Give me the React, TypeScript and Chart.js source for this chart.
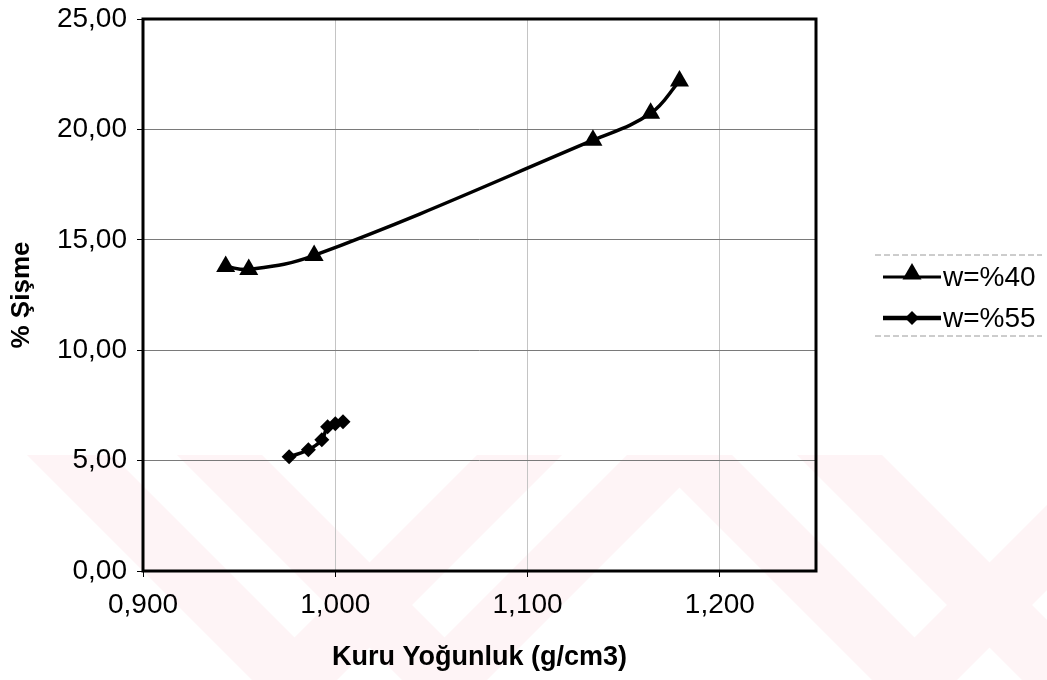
import { useEffect, useRef } from "react";
import { Chart, registerables } from "chart.js";

Chart.register(...registerables);

// Dry density (g/cm3) vs swelling (%) for two water contents
const densityW40 = [0.943, 0.955, 0.989, 1.134, 1.164, 1.179];
const swellW40 = [13.79, 13.66, 14.29, 19.51, 20.73, 22.19];
const densityW55 = [0.976, 0.986, 0.993, 0.996, 1.0, 1.004];
const swellW55 = [5.17, 5.49, 5.94, 6.53, 6.67, 6.76];

const seriesLabels = ["w=%40", "w=%55"];
const xTicks = [0.9, 1.0, 1.1, 1.2];
const yTicks = [0, 5, 10, 15, 20, 25];
const xTitle = "Kuru Yoğunluk (g/cm3)";
const yTitle = "% Şişme";

const FONT = "'Liberation Sans', Arial, sans-serif";
const W = 1047;
const H = 680;

const toPoints = (xs: number[], ys: number[]) => xs.map((x, i) => ({ x, y: ys[i] }));

function drawTriangle(ctx: CanvasRenderingContext2D, x: number, y: number, r: number) {
  ctx.beginPath();
  for (let k = 0; k < 3; k++) {
    const a = (k * 2 * Math.PI) / 3;
    const px = x + Math.sin(a) * r;
    const py = y - Math.cos(a) * r;
    if (k === 0) ctx.moveTo(px, py);
    else ctx.lineTo(px, py);
  }
  ctx.closePath();
  ctx.fill();
}

function drawDiamond(ctx: CanvasRenderingContext2D, x: number, y: number, r: number) {
  ctx.beginPath();
  ctx.moveTo(x, y - r);
  ctx.lineTo(x + r, y);
  ctx.lineTo(x, y + r);
  ctx.lineTo(x - r, y);
  ctx.closePath();
  ctx.fill();
}

// faint page watermark: diagonal bands across the lower part of the page
const watermarkPlugin = {
  id: "watermark",
  beforeDraw(chart: any) {
    const ctx = chart.ctx as CanvasRenderingContext2D;
    ctx.save();
    ctx.fillStyle = "#ffffff";
    ctx.fillRect(0, 0, chart.width, chart.height);
    ctx.fillStyle = "#fef4f6";
    const top = 455;
    const bottom = chart.height;
    const h = bottom - top;
    const bw = 85;
    const down = [27, 177, 647, 797];
    const up = [477, 627, 1097];
    for (const x0 of down) {
      ctx.beginPath();
      ctx.moveTo(x0, top);
      ctx.lineTo(x0 + bw, top);
      ctx.lineTo(x0 + bw + h, bottom);
      ctx.lineTo(x0 + h, bottom);
      ctx.closePath();
      ctx.fill();
    }
    for (const x0 of up) {
      ctx.beginPath();
      ctx.moveTo(x0, top);
      ctx.lineTo(x0 + bw, top);
      ctx.lineTo(x0 + bw - h, bottom);
      ctx.lineTo(x0 - h, bottom);
      ctx.closePath();
      ctx.fill();
    }
    ctx.restore();
  },
};

// solid frame around the plot area
const framePlugin = {
  id: "frame",
  beforeDatasetsDraw(chart: any) {
    const { ctx, chartArea } = chart;
    ctx.save();
    ctx.strokeStyle = "#000";
    ctx.lineWidth = 3;
    ctx.setLineDash([]);
    ctx.strokeRect(chartArea.left, chartArea.top, chartArea.right - chartArea.left, chartArea.bottom - chartArea.top);
    ctx.restore();
  },
};

// legend on the right: line sample with marker, then label
const legendPlugin = {
  id: "sideLegend",
  afterDraw(chart: any) {
    const ctx = chart.ctx as CanvasRenderingContext2D;
    const boxLeft = 875;
    const boxRight = 1042;
    const boxTop = 255;
    const boxBottom = 336;
    ctx.save();
    ctx.strokeStyle = "#9a9a9a";
    ctx.lineWidth = 1;
    ctx.setLineDash([6, 3]);
    ctx.beginPath();
    ctx.moveTo(boxLeft, boxTop);
    ctx.lineTo(boxRight, boxTop);
    ctx.moveTo(boxLeft, boxBottom);
    ctx.lineTo(boxRight, boxBottom);
    ctx.stroke();
    ctx.setLineDash([]);

    const rows = [277, 318];
    chart.data.datasets.forEach((ds: any, i: number) => {
      const y = rows[i];
      ctx.strokeStyle = "#000";
      ctx.fillStyle = "#000";
      ctx.lineWidth = i === 0 ? 3 : 4.5;
      ctx.beginPath();
      ctx.moveTo(883, y);
      ctx.lineTo(941, y);
      ctx.stroke();
      if (ds.pointStyle === "triangle") drawTriangle(ctx, 912, y - 3, 11);
      else drawDiamond(ctx, 912, y, 7);
      ctx.font = `28px ${FONT}`;
      ctx.textBaseline = "middle";
      ctx.textAlign = "left";
      ctx.fillText(ds.label, 943, y + 1);
    });
    ctx.restore();
  },
};

export default function App() {
  const canvasRef = useRef<HTMLCanvasElement | null>(null);

  useEffect(() => {
    const canvas = canvasRef.current;
    if (!canvas) return;
    const chart = new Chart(canvas, {
      type: "scatter",
      data: {
        datasets: [
          {
            label: seriesLabels[0],
            data: toPoints(densityW40, swellW40),
            showLine: true,
            tension: 0.4,
            borderColor: "#000",
            backgroundColor: "#000",
            borderWidth: 3.5,
            pointStyle: "triangle",
            pointRadius: 11,
            pointHoverRadius: 11,
            pointBorderWidth: 0,
          },
          {
            label: seriesLabels[1],
            data: toPoints(densityW55, swellW55),
            showLine: true,
            tension: 0.4,
            borderColor: "#000",
            backgroundColor: "#000",
            borderWidth: 3.5,
            pointStyle: "rectRot",
            pointRadius: 7.5,
            pointHoverRadius: 7.5,
            pointBorderWidth: 0,
          },
        ],
      },
      options: {
        responsive: false,
        animation: false,
        events: [],
        layout: { padding: { top: 19, right: W - 816, bottom: 0, left: 0 } },
        plugins: {
          legend: { display: false },
          tooltip: { enabled: false },
        },
        scales: {
          x: {
            type: "linear",
            min: 0.9,
            max: 1.25,
            afterBuildTicks: (scale: any) => {
              scale.ticks = xTicks.map((v) => ({ value: v }));
            },
            afterFit: (scale: any) => {
              scale.height = H - 571;
              scale.paddingLeft = 0;
              scale.paddingRight = 0;
            },
            ticks: {
              font: { family: FONT, size: 28 },
              color: "#000",
              padding: 11,
              maxRotation: 0,
              callback: (v: any) => Number(v).toFixed(3).replace(".", ","),
            },
            grid: {
              color: "#c4c4c4",
              lineWidth: 1,
              borderDash: [2, 7],
              tickLength: 6,
              tickColor: "#000",
              tickBorderDash: [],
            },
            border: { display: false },
            title: {
              display: true,
              text: xTitle,
              color: "#000",
              font: { family: FONT, size: 27, weight: "bold" },
              padding: { top: 0, bottom: 6 },
            },
          },
          y: {
            type: "linear",
            min: 0,
            max: 25,
            afterBuildTicks: (scale: any) => {
              scale.ticks = yTicks.map((v) => ({ value: v }));
            },
            afterFit: (scale: any) => {
              scale.width = 143;
              scale.paddingTop = 0;
              scale.paddingBottom = 0;
            },
            ticks: {
              font: { family: FONT, size: 28 },
              color: "#000",
              padding: 10,
              callback: (v: any) => Number(v).toFixed(2).replace(".", ","),
            },
            grid: {
              color: "#7a7a7a",
              lineWidth: 1,
              borderDash: [10, 5],
              tickLength: 6,
              tickColor: "#000",
              tickBorderDash: [],
            },
            border: { display: false },
            title: {
              display: true,
              text: yTitle,
              color: "#000",
              font: { family: FONT, size: 26, weight: "bold" },
              padding: { top: 6, bottom: 0 },
            },
          },
        },
      },
      plugins: [watermarkPlugin, framePlugin, legendPlugin],
    } as any);
    return () => chart.destroy();
  }, []);

  return (
    <div style={{ position: "absolute", left: 0, top: 0, width: W, height: H }}>
      <canvas ref={canvasRef} width={W} height={H} style={{ display: "block" }} />
    </div>
  );
}
